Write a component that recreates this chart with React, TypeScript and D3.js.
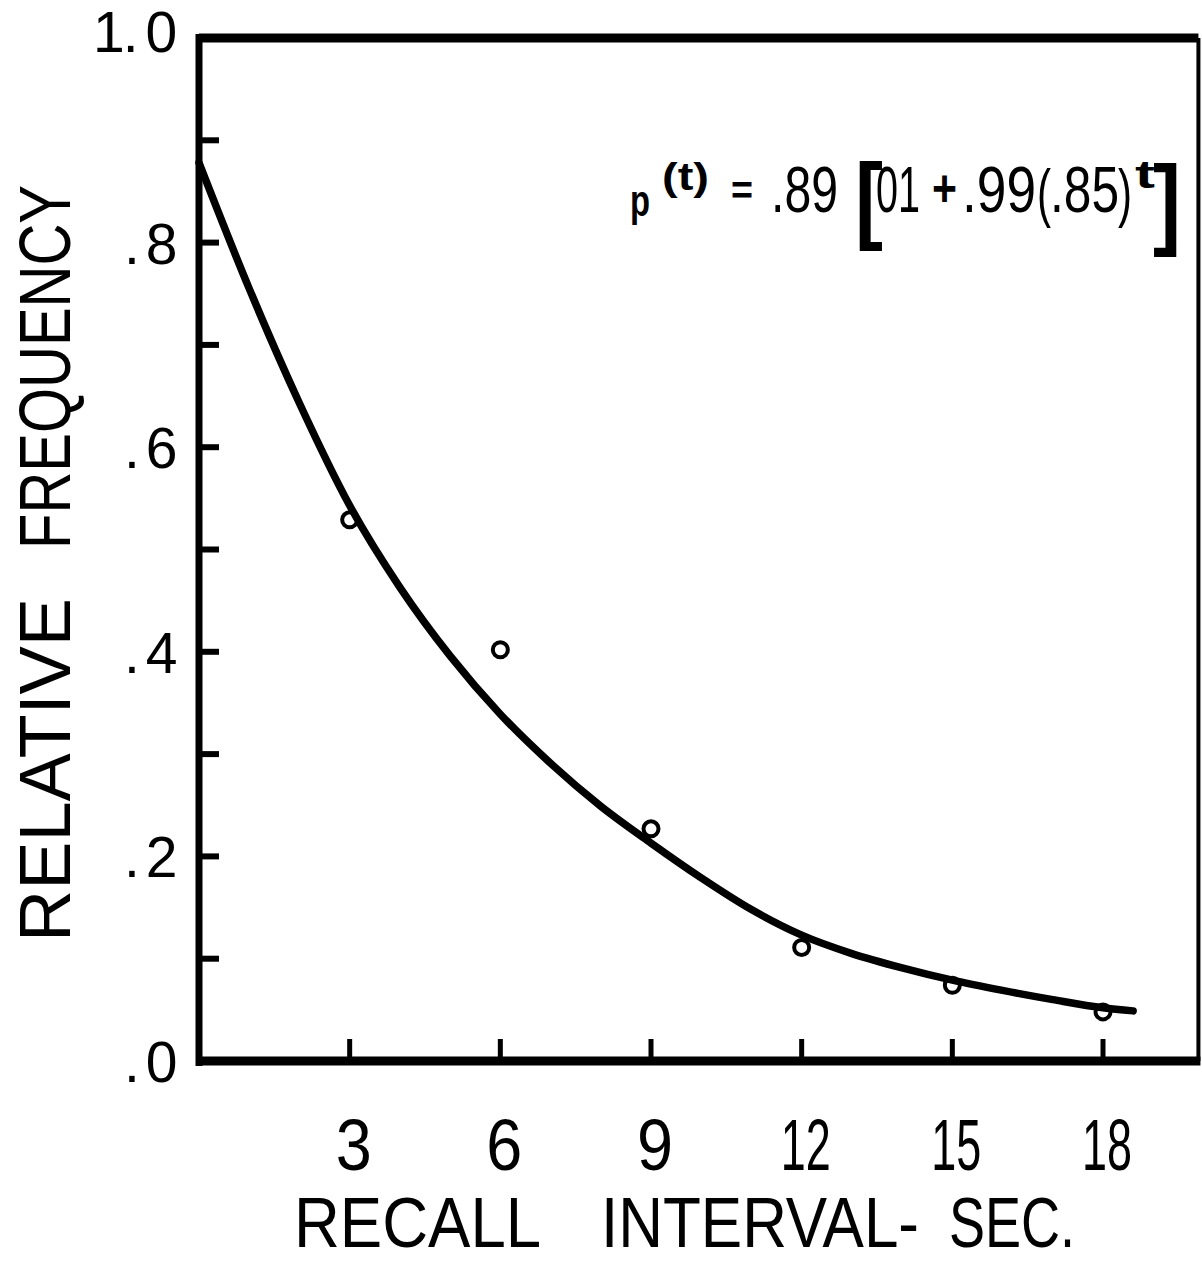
import React from "react";
import * as d3 from "d3";

// Observed recall frequencies (open circles)
const intervals = [3, 6, 9, 12, 15, 18];
const observed = [0.529, 0.402, 0.227, 0.111, 0.074, 0.048];

// Fitted curve
const curveT = [0, 1, 2, 3, 4, 5, 6, 7, 8, 9, 10, 11, 12, 13, 14, 15, 16, 17, 18, 18.6];
const curveP = [0.878, 0.755, 0.643, 0.543, 0.463, 0.396, 0.339, 0.291, 0.249, 0.213, 0.179, 0.148, 0.123, 0.105, 0.091, 0.079, 0.069, 0.06, 0.052, 0.049];

const xTicks = [3, 6, 9, 12, 15, 18];
const xTickLabels = ["3", "6", "9", "12", "15", "18"];
const yMinorTicks = [0.1, 0.2, 0.3, 0.4, 0.5, 0.6, 0.7, 0.8, 0.9];
const yLabelValues = [0, 0.2, 0.4, 0.6, 0.8];
const yLabels = ["0", "2", "4", "6", "8"];

const FONT = "'Liberation Sans', Arial, Helvetica, sans-serif";

export default function App() {
  const W = 1202, H = 1262;
  const x = d3.scaleLinear().domain([0, 18]).range([199, 1103]);
  const y = d3.scaleLinear().domain([0, 1]).range([1061, 38]);
  const xRight = x(19.9);

  const line = d3.line<number>()
    .x((_, i) => x(curveT[i]))
    .y((d) => y(d))
    .curve(d3.curveMonotoneX);

  return (
    <svg width={W} height={H} style={{ position: "absolute", left: 0, top: 0, background: "#fff" }}
      fontFamily={FONT}>
      <rect x={0} y={0} width={W} height={H} fill="#fff" />
      {/* frame */}
      <line x1={x(0)} x2={xRight} y1={y(1)} y2={y(1)} stroke="#000" strokeWidth={9} />
      <line x1={x(0)} x2={x(0)} y1={y(1) - 4} y2={y(0) + 5} stroke="#000" strokeWidth={7} />
      <line x1={x(0) - 3} x2={xRight + 2} y1={y(0)} y2={y(0)} stroke="#000" strokeWidth={9} />
      <line x1={xRight} x2={xRight} y1={y(1)} y2={y(0)} stroke="#000" strokeWidth={4} />

      {/* y ticks */}
      {yMinorTicks.map((v) => (
        <line key={"yt" + v} x1={x(0)} x2={x(0) + 20} y1={y(v)} y2={y(v)} stroke="#000" strokeWidth={6} />
      ))}
      {/* x ticks */}
      {xTicks.map((v) => (
        <line key={"xt" + v} x1={x(v)} x2={x(v)} y1={y(0)} y2={y(0) - 22} stroke="#000" strokeWidth={5} />
      ))}

      {/* y tick labels */}
      {yLabelValues.map((v, i) => (
        <text key={"yl" + v} x={124} y={y(v) + 21} fontSize={57}>
          .<tspan dx={6}>{yLabels[i]}</tspan>
        </text>
      ))}
      <text x={93} y={y(1) + 14} fontSize={57}>
        1<tspan dx={-2}>.</tspan><tspan dx={7}>0</tspan>
      </text>

      {/* x tick labels */}
      {xTicks.map((v, i) => (
        <text key={"xl" + v} x={x(v) + 4} y={1170} textAnchor="middle" fontSize={72}
          textLength={v < 10 ? 36 : 50} lengthAdjust="spacingAndGlyphs">{xTickLabels[i]}</text>
      ))}

      {/* axis titles */}
      <text x={294} y={1247} fontSize={70} textLength={247} lengthAdjust="spacingAndGlyphs">RECALL</text>
      <text x={601} y={1247} fontSize={70} textLength={318} lengthAdjust="spacingAndGlyphs">INTERVAL-</text>
      <text x={949} y={1247} fontSize={70} textLength={126} lengthAdjust="spacingAndGlyphs">SEC.</text>

      <text transform={`translate(70, 942) rotate(-90)`} fontSize={72} textLength={344} lengthAdjust="spacingAndGlyphs">RELATIVE</text>
      <text transform={`translate(70, 549) rotate(-90)`} fontSize={72} textLength={364} lengthAdjust="spacingAndGlyphs">FREQUENCY</text>

      {/* equation */}
      <g fontSize={64}>
        <text x={630} y={216} fontSize={44} fontWeight="bold" textLength={20} lengthAdjust="spacingAndGlyphs">p</text>
        <text x={662} y={190} fontSize={38} fontWeight="bold" textLength={47} lengthAdjust="spacingAndGlyphs">(t)</text>
        <text x={731} y={204} fontSize={40} fontWeight="bold" textLength={22} lengthAdjust="spacingAndGlyphs">=</text>
        <text x={771} y={212} textLength={67} lengthAdjust="spacingAndGlyphs">.89</text>
        <text x={855} y={231} fontSize={96} fontWeight="bold" textLength={28} lengthAdjust="spacingAndGlyphs">[</text>
        <text x={876} y={212} textLength={44} lengthAdjust="spacingAndGlyphs">01</text>
        <text x={932} y={206} fontSize={52} fontWeight="bold" textLength={25} lengthAdjust="spacingAndGlyphs">+</text>
        <text x={962} y={212} textLength={74} lengthAdjust="spacingAndGlyphs">.99</text>
        <text x={1037} y={215} textLength={14} lengthAdjust="spacingAndGlyphs">(</text>
        <text x={1050} y={212} textLength={69} lengthAdjust="spacingAndGlyphs">.85</text>
        <text x={1118} y={215} textLength={14} lengthAdjust="spacingAndGlyphs">)</text>
        <text x={1135} y={188} fontSize={38} fontWeight="bold" textLength={20} lengthAdjust="spacingAndGlyphs">t</text>
        <text x={1153} y={236} fontSize={100} fontWeight="bold" textLength={28} lengthAdjust="spacingAndGlyphs">]</text>
      </g>

      {/* observed points */}
      {intervals.map((t, i) => (
        <circle key={"pt" + t} cx={x(t)} cy={y(observed[i])} r={7.5} fill="#fff" stroke="#000" strokeWidth={4} />
      ))}

      {/* fitted curve */}
      <path d={line(curveP) || ""} fill="none" stroke="#000" strokeWidth={7.5} strokeLinecap="round" />
    </svg>
  );
}
